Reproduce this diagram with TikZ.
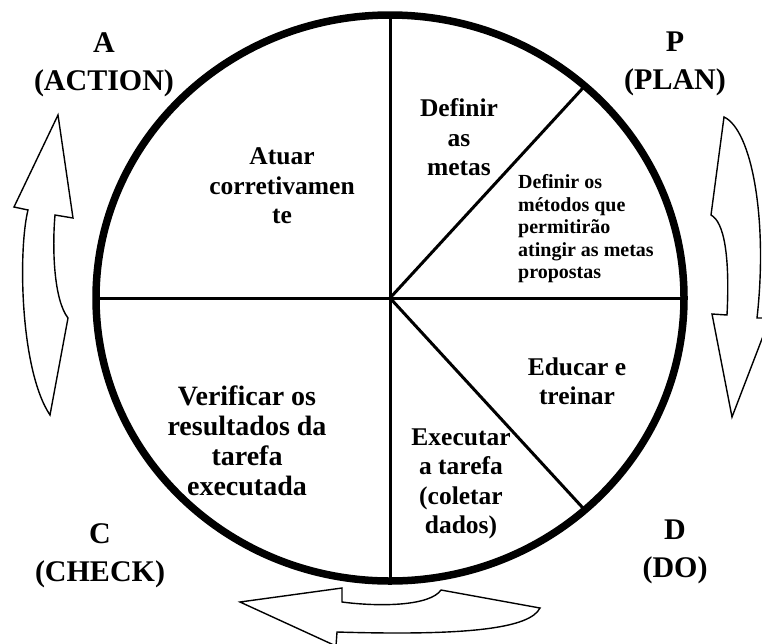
\documentclass[tikz,border=0pt]{standalone}
\usepackage{fontspec}
\setmainfont{Liberation Serif}
\begin{document}
\begin{tikzpicture}[x=1pt,y=-1pt,
  phase/.style={font=\fontsize{30}{38}\selectfont\bfseries, align=center, inner sep=0pt},
  stage/.style={font=\fontsize{25.5}{29.5}\selectfont\bfseries, align=center, inner sep=0pt},
  detail/.style={font=\fontsize{20}{22.5}\selectfont\bfseries, align=left, inner sep=0pt},
  divider/.style={line width=3pt},
  rim/.style={line width=7.5pt},
  cyclearrow/.style={line width=1.4pt, fill=white, line join=miter}]
\useasboundingbox (0,0) rectangle (762,643);
\clip (0,0) rectangle (762,643);

% centre of the wheel and points on its rim
\coordinate (O) at (390,298);
\coordinate (rimN) at (390,15);
\coordinate (rimS) at (390,581);
\coordinate (rimW) at (96,298);
\coordinate (rimE) at (684,298);
\coordinate (rimNE) at (584.8,86);
\coordinate (rimSE) at (584.8,510);

% sector dividers
\draw[divider] (rimN) -- (rimS);
\draw[divider] (rimW) -- (rimE);
\draw[divider] (O) -- (rimNE);
\draw[divider] (O) -- (rimSE);

% the wheel
\draw[rim] (O) ellipse [x radius=294pt, y radius=283pt];

% curved arrows turning the cycle
\draw[cyclearrow] (58,115) -- (73,218) -- (55,215)
  .. controls (52,250) and (54,300) .. (68,318) -- (50,415)
  .. controls (20,370) and (18,250) .. (28,210) -- (14,207) -- cycle;
\draw[cyclearrow] (724,117) .. controls (752,130) and (768,220) .. (757,318)
  -- (770,318) -- (732,417) -- (712,314) -- (727,315)
  .. controls (730,255) and (724,222) .. (711,215) -- cycle;
\draw[cyclearrow] (240,602) -- (342,588) -- (342,602)
  .. controls (380,607) and (430,606) .. (441,590) -- (540,608)
  .. controls (530,628) and (470,636) .. (337,632) -- (336,646) -- cycle;

% phase labels
\node[phase] (act) at (104,65) {A\\(ACTION)};
\node[phase] (plan) at (675,64) {P\\(PLAN)};
\node[phase] (chk) at (100,556) {C\\(CHECK)};
\node[phase] (do) at (675,552) {D\\(DO)};

% sector texts
\node[stage] (atuar) at (282,186) {Atuar\\corretivamen\\te};
\node[stage] (metas) at (459,137.5) {Definir\\as\\metas};
\node[detail, anchor=west] (metodos) at (518,229) {Definir os\\métodos que\\permitirão\\atingir as metas\\propostas};
\node[stage] (educar) at (577,381.5) {Educar e\\treinar};
\node[stage] (exec) at (461,484) {Executar\\a tarefa\\(coletar\\dados)};
\node[stage, font=\fontsize{28}{30}\selectfont\bfseries] (verif) at (247,441) {Verificar os\\resultados da\\tarefa\\executada};
\end{tikzpicture}
\end{document}
